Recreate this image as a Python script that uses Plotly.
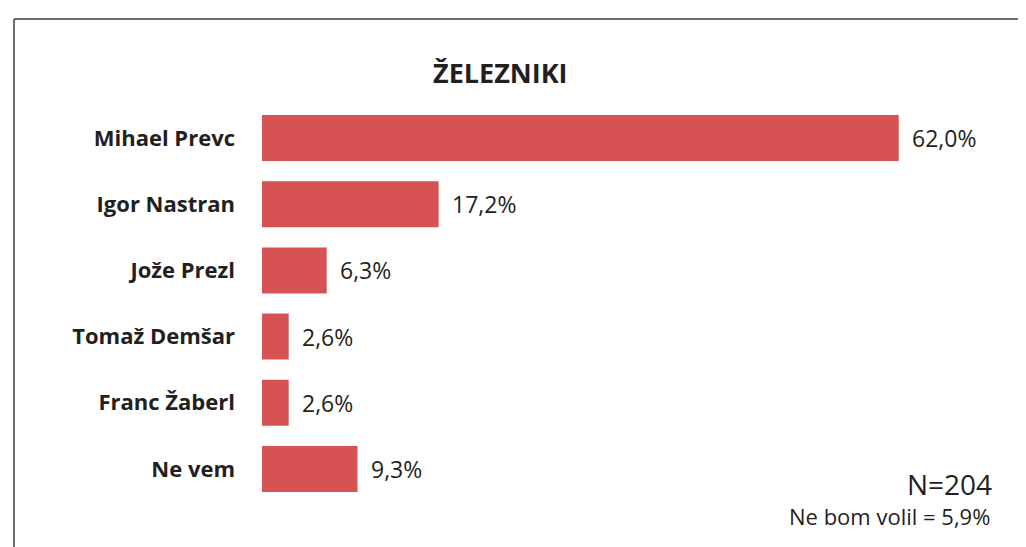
import plotly.graph_objects as go

# ---- data ----
candidates = ["Mihael Prevc", "Igor Nastran", "Jože Prezl", "Tomaž Demšar", "Franc Žaberl", "Ne vem"]
shares = [62.0, 17.2, 6.3, 2.6, 2.6, 9.3]
title_text = "ŽELEZNIKI"
note_n = "N=204"
note_abstain = "Ne bom volil = 5,9%"

# ---- layout geometry (screen pixels; page body has 8px margin) ----
OFF = 8
W, H = 1026 - OFF, 547 - OFF
L, R, T, B = 262 - OFF, 26, 105 - OFF, 45
PW, PH = W - L - R, H - T - B

def px(x):
    return (x - OFF - L) / PW

def py(y):
    return 1 - (y - OFF - T) / PH

BAR = "#D75252"
TXT = "#231F20"
FONT = "Open Sans"

labels = [f"{v:.1f}".replace(".", ",") + "%" for v in shares]

fig = go.Figure()
fig.add_trace(go.Bar(
    x=shares, y=candidates, orientation="h",
    marker=dict(color=BAR, line=dict(width=0)),
    width=0.695, hoverinfo="skip",
))

for c, v, t in zip(candidates, shares, labels):
    fig.add_annotation(x=v, y=c, xref="x", yref="y", text=t, showarrow=False,
                       xanchor="left", yanchor="middle", xshift=11,
                       font=dict(family=FONT, size=23, color=TXT))

fig.add_annotation(x=px(500), y=py(72), xref="paper", yref="paper", text=f"<b>{title_text}</b>",
                   showarrow=False, xanchor="center", yanchor="middle",
                   font=dict(family=FONT, size=27, color=TXT))
fig.add_annotation(x=px(994), y=py(484), xref="paper", yref="paper", text=note_n,
                   showarrow=False, xanchor="right", yanchor="middle",
                   font=dict(family=FONT, size=28, color=TXT))
fig.add_annotation(x=px(992), y=py(516), xref="paper", yref="paper", text=note_abstain,
                   showarrow=False, xanchor="right", yanchor="middle",
                   font=dict(family=FONT, size=22, color=TXT))

# frame lines (top, left, right)
frame = dict(color="#6E6E6E", width=2)
fig.add_shape(type="line", xref="paper", yref="paper", x0=px(14), x1=px(1019), y0=py(19), y1=py(19), line=frame)
fig.add_shape(type="line", xref="paper", yref="paper", x0=px(14), x1=px(14), y0=py(19), y1=py(560), line=frame)
fig.add_shape(type="line", xref="paper", yref="paper", x0=px(1019), x1=px(1019), y0=py(19), y1=py(560), line=frame)

fig.update_layout(
    width=W, height=H, autosize=False,
    margin=dict(l=L, r=R, t=T, b=B, pad=0),
    paper_bgcolor="white", plot_bgcolor="white",
    showlegend=False,
    xaxis=dict(range=[0, PW / 10.27], visible=False, fixedrange=True),
    yaxis=dict(categoryorder="array", categoryarray=candidates, autorange="reversed",
               showgrid=False, zeroline=False, showline=False, ticks="",
               ticklabelstandoff=26,
               tickfont=dict(family=FONT, size=22, color=TXT, weight="bold")),
)

fig.write_html("out.html")
